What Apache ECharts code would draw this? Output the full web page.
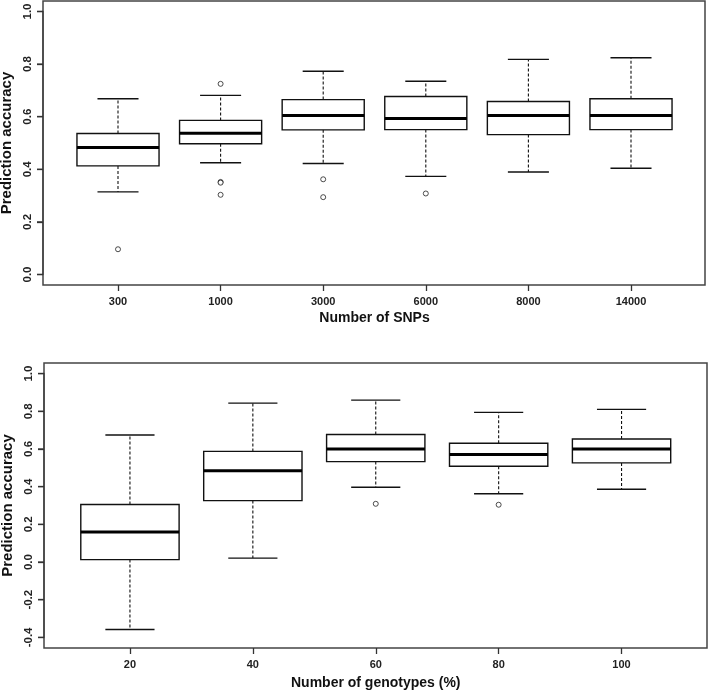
<!DOCTYPE html>
<html>
<head>
<meta charset="utf-8">
<script src="https://cdn.jsdelivr.net/npm/echarts@6/dist/echarts.min.js"></script>
<style>
html,body{margin:0;padding:0;background:#fff;}
#chart{width:708px;height:692px;}
</style>
</head>
<body>
<div id="chart"></div>
<script>
// ---- Data: top panel (Number of SNPs) ----
const snpCategories = ['300', '1000', '3000', '6000', '8000', '14000'];
const snpLow    = [0.314, 0.425, 0.422, 0.373, 0.390, 0.404];
const snpQ1     = [0.413, 0.497, 0.550, 0.551, 0.532, 0.551];
const snpMedian = [0.483, 0.537, 0.605, 0.593, 0.605, 0.605];
const snpQ3     = [0.536, 0.586, 0.665, 0.677, 0.658, 0.668];
const snpHigh   = [0.668, 0.681, 0.773, 0.735, 0.818, 0.824];
const snpOutliers = [[0, 0.096], [1, 0.725], [1, 0.352], [1, 0.349], [1, 0.303], [2, 0.362], [2, 0.294], [3, 0.308]];

// ---- Data: bottom panel (Number of genotypes %) ----
const genoCategories = ['20', '40', '60', '80', '100'];
const genoLow    = [-0.358, 0.021, 0.397, 0.362, 0.386];
const genoQ1     = [0.013, 0.326, 0.533, 0.508, 0.526];
const genoMedian = [0.159, 0.485, 0.600, 0.570, 0.600];
const genoQ3     = [0.305, 0.587, 0.677, 0.630, 0.653];
const genoHigh   = [0.674, 0.843, 0.859, 0.794, 0.810];
const genoOutliers = [[2, 0.309], [3, 0.304]];

// ---- Y ticks ----
const topYTicks = [0, 0.2, 0.4, 0.6, 0.8, 1.0];
const bottomYTicks = [-0.4, -0.2, 0, 0.2, 0.4, 0.6, 0.8, 1.0];
const yTickStep = 0.2;

const FONT = "'Liberation Sans', Arial, sans-serif";
const INK = '#111';
const AXIS = '#333';

function boxData(cats, low, q1, med, q3, high) {
  return cats.map((c, i) => [i, low[i], q1[i], med[i], q3[i], high[i]]);
}

function renderBox(params, api) {
  const i = api.value(0);
  const cx = api.coord([i, 0])[0];
  const band = api.size([1, 0])[0];
  const bw = band * 0.8;
  const cw = bw / 2;
  const yLow = api.coord([i, api.value(1)])[1];
  const yQ1 = api.coord([i, api.value(2)])[1];
  const yMed = api.coord([i, api.value(3)])[1];
  const yQ3 = api.coord([i, api.value(4)])[1];
  const yHigh = api.coord([i, api.value(5)])[1];
  const solid = { stroke: INK, lineWidth: 1.4, fill: null };
  const dashed = { stroke: INK, lineWidth: 1.1, lineDash: [3, 2], fill: null };
  return {
    type: 'group',
    children: [
      { type: 'line', shape: { x1: cx, y1: yQ3, x2: cx, y2: yHigh }, style: dashed },
      { type: 'line', shape: { x1: cx, y1: yQ1, x2: cx, y2: yLow }, style: dashed },
      { type: 'line', shape: { x1: cx - cw / 2, y1: yHigh, x2: cx + cw / 2, y2: yHigh }, style: solid },
      { type: 'line', shape: { x1: cx - cw / 2, y1: yLow, x2: cx + cw / 2, y2: yLow }, style: solid },
      { type: 'rect', shape: { x: cx - bw / 2, y: yQ3, width: bw, height: yQ1 - yQ3 }, style: { stroke: INK, lineWidth: 1.4, fill: '#fff' } },
      { type: 'line', shape: { x1: cx - bw / 2, y1: yMed, x2: cx + bw / 2, y2: yMed }, style: { stroke: '#000', lineWidth: 3 } }
    ]
  };
}

// y-axis tick marks drawn outward from the left frame edge, positioned by the axis scale
function renderYTick(params, api) {
  const p = api.coord([0, api.value(1)]);
  return { type: 'line', shape: { x1: p[0] - 6, y1: p[1], x2: p[0], y2: p[1] }, style: { stroke: AXIS, lineWidth: 1.3 } };
}

function frameGrid(l, t, w, h) {
  return { left: l, top: t, width: w, height: h, show: true, borderColor: '#444', borderWidth: 1.5,
    backgroundColor: 'transparent', containLabel: false, outerBoundsMode: 'none' };
}
function plainGrid(l, t, w, h) {
  return { left: l, top: t, width: w, height: h, show: false, containLabel: false, outerBoundsMode: 'none' };
}

function tickY(gridIndex, ticks) {
  return {
    gridIndex: gridIndex, type: 'value', position: 'left', min: ticks[0], max: ticks[ticks.length - 1], interval: yTickStep,
    name: 'Prediction accuracy', nameLocation: 'middle', nameGap: 25,
    nameTextStyle: { fontFamily: FONT, fontWeight: 'bold', fontSize: 15, color: '#111' },
    axisLine: { show: true, onZero: false, lineStyle: { color: '#444', width: 1.5 } },
    splitLine: { show: false },
    axisTick: { show: true, inside: false, length: 6, lineStyle: { color: AXIS, width: 1.3 } },
    axisLabel: { show: true, rotate: 90, margin: 9, fontFamily: FONT, fontWeight: 'bold', fontSize: 11.5, color: '#222',
      showMinLabel: true, showMaxLabel: true, formatter: v => v.toFixed(1) },
    z: 10
  };
}

function hiddenY(gridIndex, min, max) {
  return { gridIndex: gridIndex, type: 'value', min: min, max: max, show: false };
}
function hiddenX(gridIndex) {
  return { gridIndex: gridIndex, type: 'value', min: 0, max: 1, show: false };
}

function catX(gridIndex, cats, title, gap) {
  return {
    gridIndex: gridIndex, type: 'category', data: cats, boundaryGap: true,
    name: title, nameLocation: 'middle', nameGap: gap,
    nameTextStyle: { fontFamily: FONT, fontWeight: 'bold', fontSize: 14, color: '#111' },
    axisLine: { show: false, onZero: false },
    axisTick: { show: true, alignWithLabel: true, length: 6, lineStyle: { color: AXIS, width: 1.3 } },
    axisLabel: { margin: 11, fontFamily: FONT, fontWeight: 'bold', fontSize: 11, color: '#222' },
    splitLine: { show: false }
  };
}

const chart = echarts.init(document.getElementById('chart'), null, { renderer: 'canvas' });

const option = {
  animation: false,
  backgroundColor: '#fff',
  grid: [
    frameGrid(43, 1, 662, 284),          // 0 top frame
    plainGrid(66.7, 1, 615.6, 284),      // 1 top data
    plainGrid(43, 11.5, 662, 263),       // 2 top y ticks (0..1)
    frameGrid(44, 363, 663, 285),        // 3 bottom frame
    plainGrid(68.5, 363, 614.5, 285),    // 4 bottom data
    plainGrid(44, 373.6, 663, 263.8)     // 5 bottom y ticks (-0.4..1)
  ],
  xAxis: [
    hiddenX(0),
    catX(1, snpCategories, 'Number of SNPs', 26),
    hiddenX(2),
    hiddenX(3),
    catX(4, genoCategories, 'Number of genotypes (%)', 28),
    hiddenX(5)
  ],
  yAxis: [
    hiddenY(0, -0.04, 1.04),
    hiddenY(1, -0.04, 1.04),
    tickY(2, topYTicks),
    hiddenY(3, -0.456, 1.056),
    hiddenY(4, -0.456, 1.056),
    tickY(5, bottomYTicks)
  ],
  series: [
    {
      type: 'custom', xAxisIndex: 1, yAxisIndex: 1,
      data: boxData(snpCategories, snpLow, snpQ1, snpMedian, snpQ3, snpHigh),
      encode: { x: 0, y: [1, 2, 3, 4, 5] },
      renderItem: renderBox, silent: true
    },
    {
      type: 'scatter', xAxisIndex: 1, yAxisIndex: 1, data: snpOutliers,
      symbol: 'circle', symbolSize: 5,
      itemStyle: { color: '#fff', borderColor: '#222', borderWidth: 1 }, silent: true
    },
    {
      type: 'custom', xAxisIndex: 4, yAxisIndex: 4,
      data: boxData(genoCategories, genoLow, genoQ1, genoMedian, genoQ3, genoHigh),
      encode: { x: 0, y: [1, 2, 3, 4, 5] },
      renderItem: renderBox, silent: true
    },
    {
      type: 'scatter', xAxisIndex: 4, yAxisIndex: 4, data: genoOutliers,
      symbol: 'circle', symbolSize: 5,
      itemStyle: { color: '#fff', borderColor: '#222', borderWidth: 1 }, silent: true
    },
    {
      type: 'custom', xAxisIndex: 2, yAxisIndex: 2, clip: false, silent: true,
      data: topYTicks.map(v => [0, v]), encode: { x: 0, y: 1 },
      renderItem: renderYTick
    },
    {
      type: 'custom', xAxisIndex: 5, yAxisIndex: 5, clip: false, silent: true,
      data: bottomYTicks.map(v => [0, v]), encode: { x: 0, y: 1 },
      renderItem: renderYTick
    }
  ]
};
chart.setOption(option);
</script>
</body>
</html>
